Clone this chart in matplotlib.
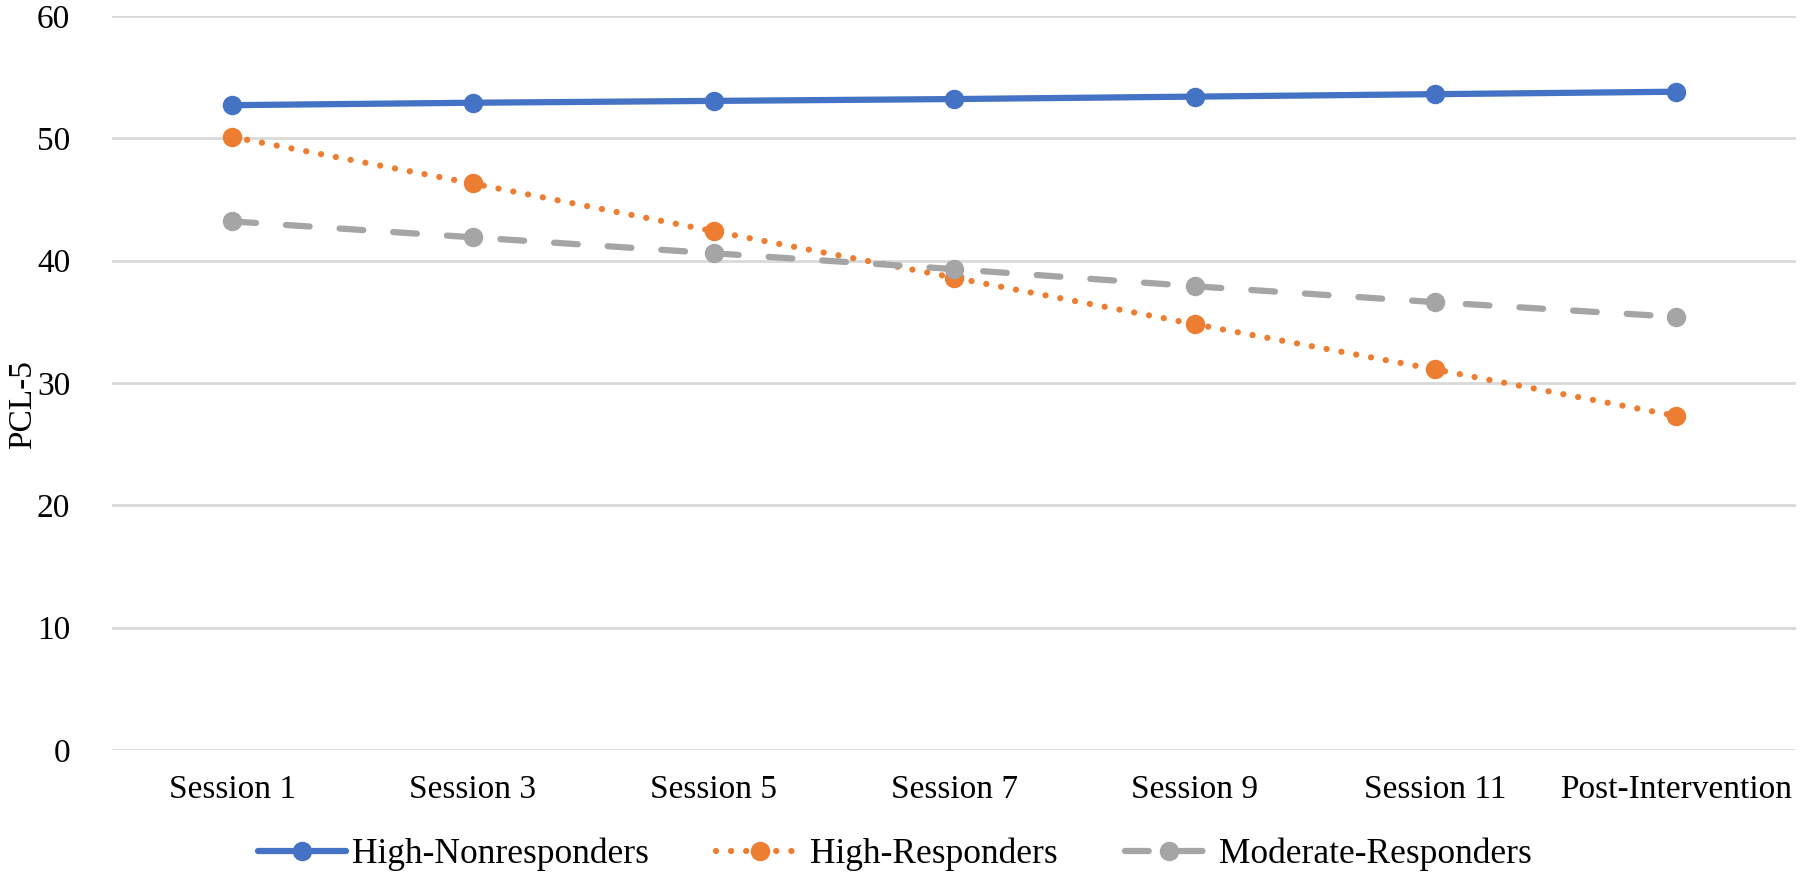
import matplotlib.pyplot as plt

# categories and series
sessions = ['Session 1', 'Session 3', 'Session 5', 'Session 7', 'Session 9', 'Session 11', 'Post-Intervention']
high_nonresponders = [52.7, 52.9, 53.05, 53.2, 53.4, 53.6, 53.8]
high_responders = [50.1, 46.3, 42.4, 38.6, 34.8, 31.1, 27.3]
moderate_responders = [43.2, 41.9, 40.6, 39.3, 37.9, 36.6, 35.4]
y_ticks = [0, 10, 20, 30, 40, 50, 60]

plt.rcParams['font.family'] = ['Liberation Serif', 'DejaVu Serif']

fig = plt.figure(figsize=(18, 8.81), dpi=100)
ax = fig.add_axes([0.0622, 0.1487, 0.9358, 0.8333])

x = list(range(len(sessions)))

# Plot the three groups
ax.plot(x, high_nonresponders, color='#4472C4', lw=4.5, marker='o', ms=13,
        solid_capstyle='round', label='High-Nonresponders')
ax.plot(x, high_responders, color='#ED7D31', lw=4.5, marker='o', ms=13,
        linestyle=(0, (0.01, 2.4)), dash_capstyle='round', label='High-Responders')
ax.plot(x, moderate_responders, color='#A5A5A5', lw=4.5, marker='o', ms=13,
        linestyle=(0, (3.8, 4.8)), dash_capstyle='round', label='Moderate-Responders')

ax.set_xlim(-0.5, len(sessions) - 0.5)
ax.set_ylim(0, 60)
ax.set_xticks(x)
ax.set_xticklabels(sessions, fontsize=24)
ax.set_yticks(y_ticks)
ax.set_yticklabels([str(v) for v in y_ticks], fontsize=24)
ax.tick_params(axis='both', length=0)
ax.tick_params(axis='x', pad=18)
ax.tick_params(axis='y', pad=30)

ax.grid(axis='y', color='#D9D9D9', lw=2)
ax.set_axisbelow(True)
for s in ax.spines.values():
    s.set_visible(False)

ax.set_ylabel('PCL-5', fontsize=24)
ax.yaxis.set_label_coords(-0.044, 0.47)

fig.legend(loc='center', bbox_to_anchor=(0.497, 0.03), ncol=3, frameon=False,
           fontsize=25.5, handlelength=2.5, handletextpad=0.15, columnspacing=1.9)

fig.savefig('out.png', dpi=100)
